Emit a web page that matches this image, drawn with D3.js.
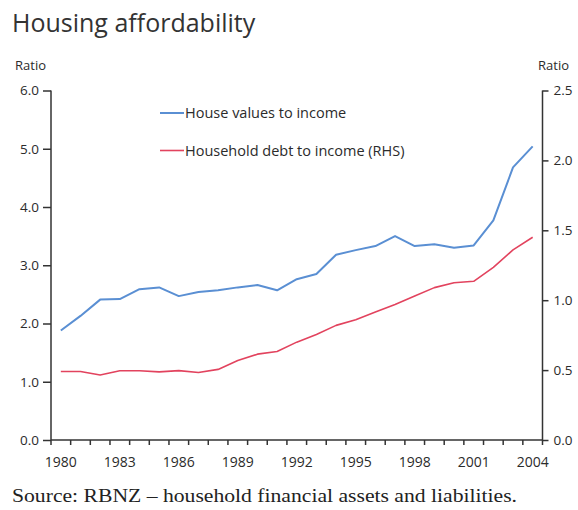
<!DOCTYPE html>
<html>
<head>
<meta charset="utf-8">
<script src="https://cdn.jsdelivr.net/npm/d3@7"></script>
<style>
  html, body { margin: 0; padding: 0; background: #fff; }
  svg { display: block; }
  .sans { font-family: "Open Sans", "Noto Sans", sans-serif; fill: #2b2b2b; }
</style>
</head>
<body>
<svg id="chart" width="578" height="510"></svg>
<script>
// Years on the horizontal axis
const years = d3.range(1980, 2005);
// House values to income (left axis, ratio)
const houseValues = [1.88, 2.13, 2.41, 2.42, 2.59, 2.62, 2.47, 2.54, 2.57, 2.62, 2.66, 2.57, 2.76,
                     2.85, 3.18, 3.26, 3.33, 3.50, 3.33, 3.36, 3.30, 3.34, 3.77, 4.68, 5.04];
// Household debt to income (right axis, ratio)
const householdDebt = [0.49, 0.49, 0.465, 0.495, 0.495, 0.487, 0.496, 0.483, 0.505, 0.568, 0.614, 0.633, 0.70,
                       0.755, 0.82, 0.86, 0.915, 0.97, 1.03, 1.09, 1.125, 1.135, 1.235, 1.36, 1.45];
const leftTicks = [0, 1, 2, 3, 4, 5, 6];
const rightTicks = [0, 0.5, 1, 1.5, 2, 2.5];
const yearLabels = [1980, 1983, 1986, 1989, 1992, 1995, 1998, 2001, 2004];

const svg = d3.select("#chart");
const plotLeft = 51, plotRight = 542.5, plotTop = 90.5, plotBottom = 440;
const axisColor = "#333";

const x = d3.scaleBand().domain(years).range([plotLeft, plotRight]);
const yL = d3.scaleLinear().domain([0, 6]).range([plotBottom, plotTop]);
const yR = d3.scaleLinear().domain([0, 2.5]).range([plotBottom, plotTop]);

// Title
svg.append("text").attr("class", "sans")
  .attr("x", 12).attr("y", 32)
  .style("font-size", "25px").style("fill", "#333")
  .text("Housing affordability");

// Axis unit labels
svg.append("text").attr("class", "sans").attr("x", 15).attr("y", 69.5)
  .style("font-size", "13px").text("Ratio");
svg.append("text").attr("class", "sans").attr("x", 538).attr("y", 69.5)
  .style("font-size", "13px").text("Ratio");

// Left axis
const gL = svg.append("g").attr("transform", `translate(${plotLeft},0)`)
  .call(d3.axisLeft(yL).tickValues(leftTicks).tickFormat(d3.format(".1f")).tickSize(8).tickPadding(4));
// Right axis
const gR = svg.append("g").attr("transform", `translate(${plotRight},0)`)
  .call(d3.axisRight(yR).tickValues(rightTicks).tickFormat(d3.format(".1f")).tickSize(6).tickPadding(5));
// Bottom axis: a tick at every year boundary, labels every third year centred in the band
const boundaries = years.map(y => x(y)).concat([x(years[years.length - 1]) + x.bandwidth()]);
const gB = svg.append("g").attr("transform", `translate(0,${plotBottom})`);
gB.append("line").attr("x1", plotLeft).attr("x2", plotRight).attr("y1", 0).attr("y2", 0);
gB.selectAll("line.tick").data(boundaries).join("line").attr("class", "tick")
  .attr("x1", d => d).attr("x2", d => d).attr("y1", 0).attr("y2", 5);
gB.selectAll("text").data(yearLabels).join("text").attr("class", "sans")
  .attr("x", d => x(d) + x.bandwidth() / 2).attr("y", 27)
  .attr("text-anchor", "middle").style("font-size", "14px").text(d => d);
gB.selectAll("line").attr("stroke", axisColor).attr("stroke-width", 1.5);

[gL, gR].forEach(g => {
  g.select(".domain").attr("stroke", axisColor).attr("stroke-width", 1.5)
    .attr("d", `M0,${plotBottom}V${plotTop}`);
  g.selectAll(".tick line").attr("stroke", axisColor).attr("stroke-width", 1.5);
  g.selectAll(".tick text").attr("class", "sans").style("font-size", "13.5px")
    .attr("font-family", null).style("fill", "#2b2b2b");
});

// Series lines
const cx = d => x(d) + x.bandwidth() / 2;
const lineL = d3.line().x((d, i) => cx(years[i])).y(d => yL(d));
const lineR = d3.line().x((d, i) => cx(years[i])).y(d => yR(d));

svg.append("path").datum(householdDebt).attr("d", lineR)
  .attr("fill", "none").attr("stroke", "#e2435e").attr("stroke-width", 1.6).attr("stroke-linejoin", "round");
svg.append("path").datum(houseValues).attr("d", lineL)
  .attr("fill", "none").attr("stroke", "#5a8fd3").attr("stroke-width", 2).attr("stroke-linejoin", "round");

// Legend
const legend = [
  { label: "House values to income", color: "#5a8fd3", w: 2, y: 113 },
  { label: "Household debt to income (RHS)", color: "#e2435e", w: 1.6, y: 150.5 }
];
const lg = svg.append("g");
lg.selectAll("line").data(legend).join("line")
  .attr("x1", 160).attr("x2", 184).attr("y1", d => d.y).attr("y2", d => d.y)
  .attr("stroke", d => d.color).attr("stroke-width", d => d.w);
lg.selectAll("text").data(legend).join("text").attr("class", "sans")
  .attr("x", 185).attr("y", d => d.y).attr("dy", "0.35em")
  .style("font-size", "14.5px").text(d => d.label);

// Source note
svg.append("text").attr("x", 12).attr("y", 502)
  .style("font-family", "'Liberation Serif', 'Times New Roman', serif")
  .style("font-size", "19px").style("fill", "#222")
  .attr("textLength", 505).attr("lengthAdjust", "spacingAndGlyphs")
  .text("Source: RBNZ \u2013 household financial assets and liabilities.");
</script>
</body>
</html>
